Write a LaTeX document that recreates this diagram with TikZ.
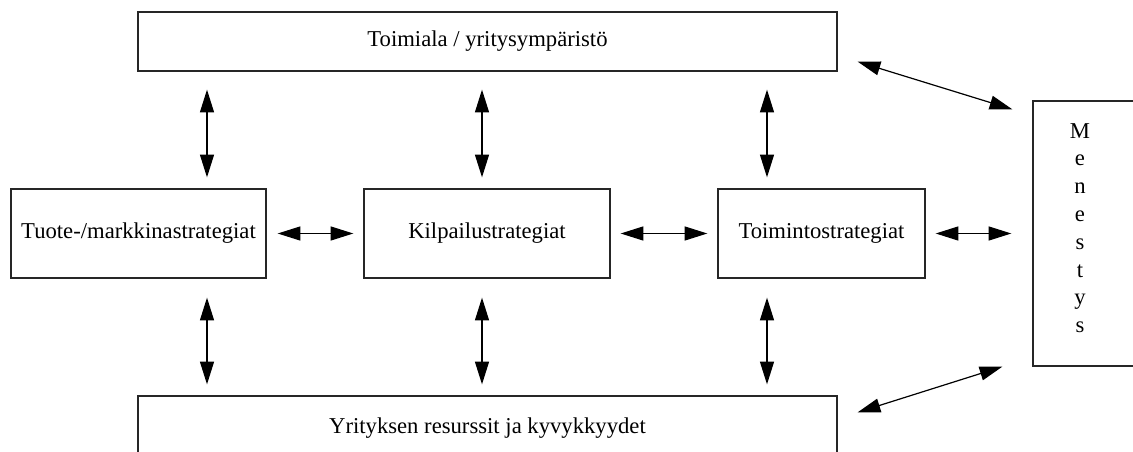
\documentclass[tikz,border=0pt]{standalone}
\usepackage{fontspec}
\setmainfont{Liberation Serif}
\usetikzlibrary{arrows.meta}

\begin{document}
\begin{tikzpicture}[x=0.75pt, y=0.75pt, font=\fontsize{17}{20.85}\selectfont,
	box/.style={draw=black!85, line width=1pt, inner sep=0pt, align=center},
	link/.style={line width=0.9pt, {Triangle[length=17pt,width=10.5pt]}-{Triangle[length=17pt,width=10.5pt]}}]
	\useasboundingbox (0,0) rectangle (1133,-452);
	\node [box, minimum width=524.25pt, minimum height=44.25pt] (toimiala) at (487.5,-41.5) {Toimiala / yritysympäristö};
	\node [box, minimum width=191.25pt, minimum height=66.75pt] (tuote) at (138.5,-233.5) {Tuote-/markkinastrategiat};
	\node [box, minimum width=184.5pt, minimum height=66.75pt] (kilpailu) at (487,-233.5) {Kilpailustrategiat};
	\node [box, minimum width=155.25pt, minimum height=66.75pt] (toiminto) at (821.5,-233.5) {Toimintostrategiat};
	\node [box, minimum width=524.25pt, minimum height=48pt] (resurssit) at (487.5,-428) {Yrityksen resurssit ja kyvykkyydet};
	\node [box, minimum width=80.25pt, minimum height=198.75pt] (menestys) at (1086.5,-233.5) {};
	\node [align=center, inner sep=0pt] (menestysteksti) at (1080,-228) {M\\e\\n\\e\\s\\t\\y\\s};

	\foreach \x/\n in {207/tuote, 482/kilpailu, 767/toiminto} {
		\draw [link, shorten <=13.5pt, shorten >=8.25pt] (toimiala.south -| \x,0) -- (\n.north -| \x,0);
		\draw [link, shorten <=14.25pt, shorten >=8.25pt] (\n.south -| \x,0) -- (resurssit.north -| \x,0);
	}

	\draw [link, shorten <=8.25pt, shorten >=7.5pt] (tuote.east) -- (kilpailu.west);
	\draw [link, shorten <=7.5pt, shorten >=7.5pt] (kilpailu.east) -- (toiminto.west);
	\draw [link, shorten <=7.5pt, shorten >=15.75pt] (toiminto.east) -- (menestys.west);

	\draw [link] ([shift={(20,10)}]toimiala.south east) -- ([shift={(-20,-9)}]menestys.north west);
	\draw [link] ([shift={(-30,0)}]menestys.south west) -- ([shift={(20,-17)}]resurssit.north east);
\end{tikzpicture}
\end{document}
